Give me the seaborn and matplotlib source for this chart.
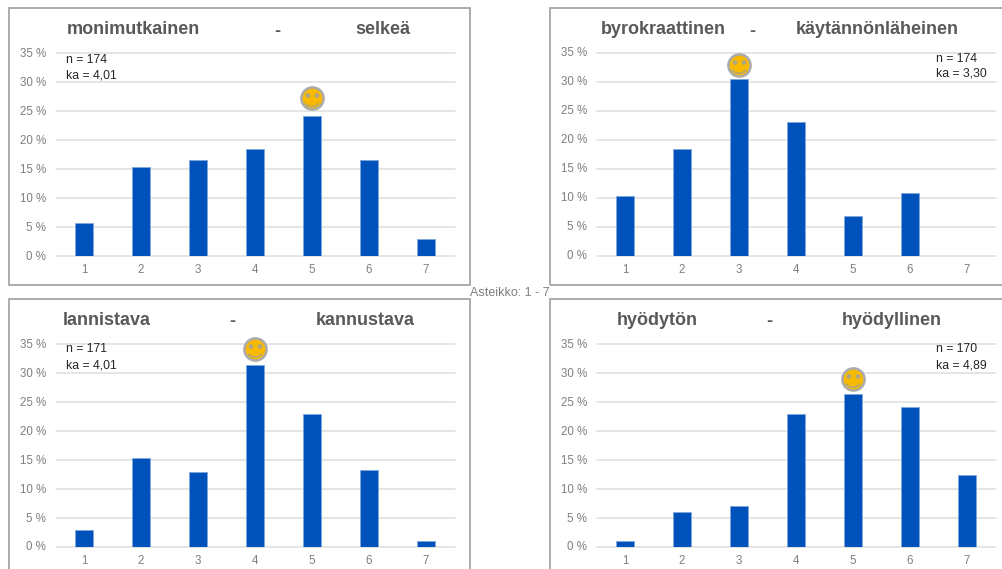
import matplotlib
matplotlib.use("Agg")
import matplotlib.pyplot as plt
from matplotlib.path import Path
from matplotlib.patches import Rectangle
from matplotlib.transforms import ScaledTranslation
import numpy as np
import pandas as pd
import seaborn as sns

W, H = 1002, 569

scale = [1, 2, 3, 4, 5, 6, 7]
y_ticks = [0, 5, 10, 15, 20, 25, 30, 35]

left_terms = ["monimutkainen", "byrokraattinen", "lannistava", "hyödytön"]
right_terms = ["selkeä", "käytännönläheinen", "kannustava", "hyödyllinen"]

share_clear = [5.7, 15.4, 16.6, 18.4, 24.1, 16.6, 3.0]
share_practical = [10.3, 18.4, 30.5, 23.0, 6.9, 10.8, 0.0]
share_encouraging = [3.0, 15.3, 12.9, 31.5, 22.9, 13.3, 1.1]
share_useful = [1.1, 6.0, 7.0, 22.9, 26.4, 24.1, 12.4]
shares = [share_clear, share_practical, share_encouraging, share_useful]

respondents = [174, 174, 171, 170]
means = ["4,01", "3,30", "4,01", "4,89"]
smiley_scale = [5, 3, 4, 5]
smiley_height = [27.2, 32.9, 34.2, 29.0]

# Pixel layout of each panel: frame box, plot area, title positions, note position
frames = [(9, 8, 470, 285), (550, 8, 1010, 285), (9, 299, 470, 580), (550, 299, 1010, 580)]
plots = [(55.5, 53.3, 454.5, 256), (596.5, 53, 995.5, 255.7),
         (55.5, 344.3, 454.5, 547), (596.5, 344.3, 995.5, 547)]
title_x = [(67, 355, 274.5), (601, 796, 749.5), (63, 316, 229.5), (617, 842, 766.5)]
title_y = [29.5, 29.5, 320.5, 320.5]
note_xy = [(66, 60), (936, 58.5), (66, 349.5), (936, 349.5)]

BLUE = "#0052BB"
BAR_EDGE = "#7FA6DE"
GRID = "#DEDEDE"
TEXT = "#595959"
TICK = "#7F7F7F"
FRAME = "#A6A6A6"

sns.set_theme(style="white")
plt.rcParams["font.family"] = ["Liberation Sans", "DejaVu Sans"]

fig = plt.figure(figsize=(W / 100, H / 100), dpi=100, facecolor="white")


def px_axes(x0, y0, x1, y1):
    return fig.add_axes([x0 / W, 1 - y1 / H, (x1 - x0) / W, (y1 - y0) / H])


# Unit-square corners keep the marker scaling shared between mouth and eyes
corners = Path([[-1, -1], [1, 1]], [Path.MOVETO, Path.MOVETO])
theta = np.radians(np.linspace(219, 321, 24))
mouth = Path.make_compound_path(
    Path(np.column_stack([np.cos(theta), np.sin(theta) + 0.1])),
    corners,
)
eye = Path.circle((0, 0), 0.26)
eyes = Path.make_compound_path(
    Path(eye.vertices + [-0.5, 0.33], eye.codes),
    Path(eye.vertices + [0.5, 0.33], eye.codes),
    corners,
)

# Panel frames
for x0, y0, x1, y1 in frames:
    fig.add_artist(Rectangle((x0 / W, 1 - y1 / H), (x1 - x0) / W, (y1 - y0) / H,
                             transform=fig.transFigure, fill=False,
                             edgecolor=FRAME, linewidth=1.3, zorder=0))

label_nudge = ScaledTranslation(0, 1 / 100, fig.dpi_scale_trans)

for i, values in enumerate(shares):
    ax = px_axes(*plots[i])
    ax.patch.set_alpha(0)
    df = pd.DataFrame({"arvo": [str(s) for s in scale], "osuus": values})
    sns.barplot(data=df, x="arvo", y="osuus", color=BLUE, saturation=1, width=0.31,
                edgecolor=BAR_EDGE, linewidth=0.6, ax=ax, zorder=3)
    ax.set_xlim(-0.5, 6.5)
    ax.set_ylim(0, 35)
    ax.set_yticks(y_ticks)
    ax.set_yticklabels([f"{t} %" for t in y_ticks])
    ax.set_xlabel("")
    ax.set_ylabel("")
    ax.grid(axis="y", color=GRID, linewidth=1.1, zorder=0)
    ax.set_axisbelow(True)
    sns.despine(ax=ax, left=True, top=True, right=True, bottom=True)
    ax.tick_params(axis="both", length=0, labelsize=8.3, labelcolor=TICK)
    ax.tick_params(axis="x", pad=6)
    ax.tick_params(axis="y", pad=7)
    for label in ax.get_yticklabels():
        label.set_transform(label.get_transform() + label_nudge)
    for line in ax.get_ygridlines():
        line.set_clip_on(False)

    # Smiley above the most common answer
    sx, sy = smiley_scale[i] - 1, smiley_height[i]
    ax.scatter([sx], [sy], s=255, color="#F7BA00", edgecolor="#ABABAB",
               linewidth=1.8, zorder=5, clip_on=False)
    ax.scatter([sx], [sy], s=169, marker=mouth, facecolor="none",
               edgecolor="#B8A874", linewidth=1.2, zorder=6, clip_on=False)
    ax.scatter([sx], [sy], s=169, marker=eyes, color="#ADA685",
               linewidth=0, zorder=6, clip_on=False)

    # Axis title pair
    lx, rx, dx = title_x[i]
    for text, x in [(left_terms[i], lx), (right_terms[i], rx)]:
        fig.text(x / W, 1 - title_y[i] / H, text, ha="left", va="center",
                 fontsize=13, fontweight="bold", color=TEXT)
    fig.text(dx / W, 1 - (title_y[i] + 1.5) / H, "-", ha="left", va="center",
             fontsize=13, fontweight="bold", color=TEXT)

    # Sample size and mean
    nx, ny = note_xy[i]
    fig.text(nx / W, 1 - ny / H, f"n = {respondents[i]}", ha="left", va="center",
             fontsize=8.8, color="#262626")
    fig.text(nx / W, 1 - (ny + 15.5) / H, f"ka = {means[i]}", ha="left", va="center",
             fontsize=8.8, color="#262626")

fig.text(510 / W, 1 - 292.5 / H, "Asteikko: 1 - 7", ha="center", va="center",
         fontsize=9, color=TICK)

fig.savefig("out.png", dpi=100, facecolor="white")
